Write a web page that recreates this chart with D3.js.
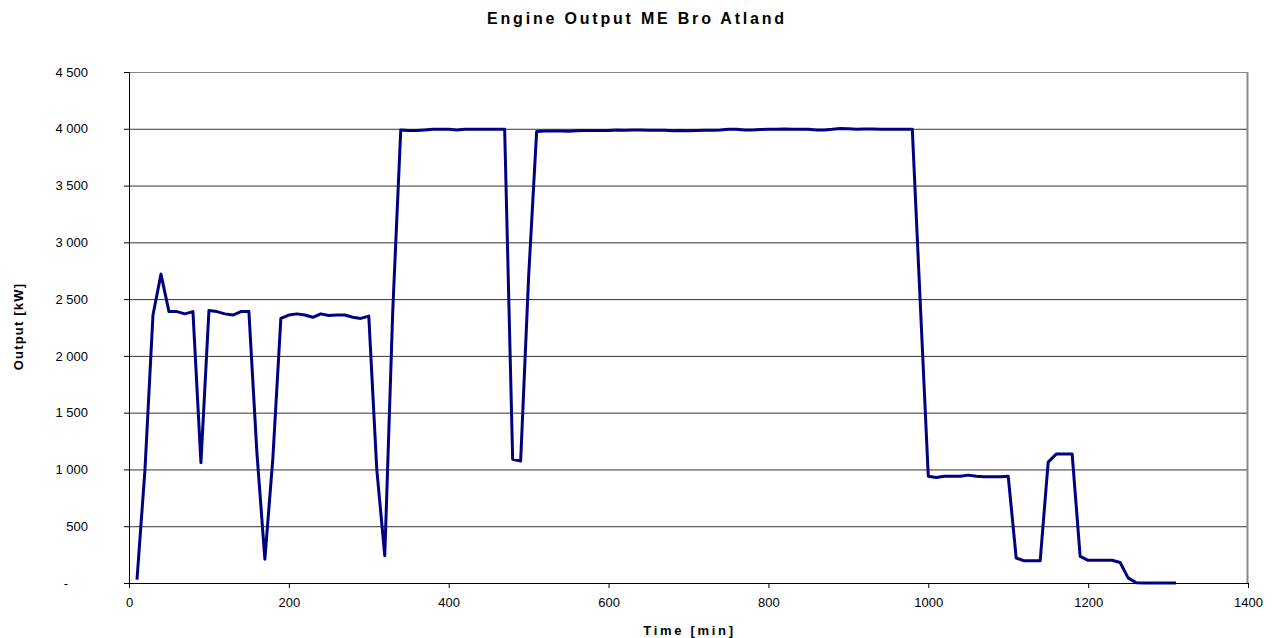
<!DOCTYPE html>
<html lang="en">
<head>
    <meta charset="UTF-8">
    <title>Engine Output ME Bro Atland</title>
    <script src="https://d3js.org/d3.v7.min.js"></script>
    <style>
        body { margin: 0; background: #fff; }
        text { font-family: Arial, "Liberation Sans", sans-serif; }
    </style>
</head>
<body>
    <div id="chart"></div>
    <script>
        // time in minutes
        var times = [
            10, 20, 30, 40, 50, 60, 70, 80, 90, 100,
            110, 120, 130, 140, 150, 160, 170, 180, 190, 200,
            210, 220, 230, 240, 250, 260, 270, 280, 290, 300,
            310, 320, 330, 340, 350, 360, 370, 380, 390, 400,
            410, 420, 430, 440, 450, 460, 470, 480, 490, 500,
            510, 520, 530, 540, 550, 560, 570, 580, 590, 600,
            610, 620, 630, 640, 650, 660, 670, 680, 690, 700,
            710, 720, 730, 740, 750, 760, 770, 780, 790, 800,
            810, 820, 830, 840, 850, 860, 870, 880, 890, 900,
            910, 920, 930, 940, 950, 960, 970, 980, 990, 1000,
            1010, 1020, 1030, 1040, 1050, 1060, 1070, 1080, 1090, 1100,
            1110, 1120, 1130, 1140, 1150, 1160, 1170, 1180, 1190, 1200,
            1210, 1220, 1230, 1240, 1250, 1260, 1270, 1280, 1290, 1300,
            1310
        ];
        // engine output in kW
        var output = [
            30, 1000, 2360, 2720, 2390, 2390, 2370, 2390, 1060, 2400,
            2390, 2370, 2360, 2390, 2390, 1150, 210, 1100, 2330, 2360,
            2370, 2360, 2340, 2370, 2355, 2360, 2360, 2340, 2330, 2350,
            1000, 240, 2400, 3990, 3985, 3985, 3990, 3995, 3995, 3995,
            3990, 3995, 3995, 3995, 3995, 3995, 3995, 1090, 1075, 2700,
            3975, 3980, 3980, 3980, 3978, 3982, 3985, 3985, 3985, 3985,
            3990, 3988, 3990, 3990, 3988, 3988, 3988, 3983, 3985, 3982,
            3985, 3988, 3988, 3990, 3995, 3995, 3990, 3990, 3993, 3995,
            3995, 3998, 3995, 3995, 3995, 3990, 3990, 3995, 4003, 4000,
            3995, 3998, 3998, 3995, 3995, 3995, 3995, 3995, 2460, 940,
            930, 940, 940, 940, 950, 940, 935, 935, 935, 940,
            220, 195, 195, 195, 1065, 1135, 1135, 1135, 235, 200,
            200, 200, 200, 180, 45, 3, 0, 0, 0, 0,
            0
        ];
        var xTicks = [0, 200, 400, 600, 800, 1000, 1200, 1400];
        var yTicks = [0, 500, 1000, 1500, 2000, 2500, 3000, 3500, 4000, 4500];

        var data = times.map(function (t, i) { return { t: t, v: output[i] }; });

        var W = 1282, H = 638;
        var margin = { top: 72, right: 34, bottom: 55, left: 129 };
        var width = W - margin.left - margin.right;
        var height = H - margin.top - margin.bottom;

        var root = d3.select("#chart").append("svg")
            .attr("width", W)
            .attr("height", H);

        var svg = root.append("g")
            .attr("transform", "translate(" + margin.left + "," + margin.top + ")");

        var x = d3.scaleLinear().domain([0, 1400]).range([0, width]);
        var y = d3.scaleLinear().domain([0, 4500]).range([height, 0]);

        // gridlines
        svg.append("g")
            .selectAll("line")
            .data(yTicks.filter(function (d) { return d > 0 && d < 4500; }))
            .enter().append("line")
            .attr("x1", 0).attr("x2", width)
            .attr("y1", function (d) { return y(d) + 0.5; })
            .attr("y2", function (d) { return y(d) + 0.5; })
            .style("stroke", "#333")
            .style("stroke-width", 1);

        // plot border top/right
        svg.append("line")
            .attr("x1", 0).attr("x2", width)
            .attr("y1", 0.5).attr("y2", 0.5)
            .style("stroke", "#888");
        svg.append("line")
            .attr("x1", width - 0.5).attr("x2", width - 0.5)
            .attr("y1", 0).attr("y2", height)
            .style("stroke", "#888")
            .style("stroke-width", 2);

        var fmt = d3.format(",");
        var yAxis = svg.append("g")
            .call(d3.axisLeft(y).tickValues(yTicks).tickSize(5).tickPadding(36)
                .tickFormat(function (d) { return d === 0 ? "-" : fmt(d).replace(/,/g, " "); }));
        yAxis.select(".domain").style("stroke", "#000");
        yAxis.selectAll(".tick line").style("stroke", "#000");
        yAxis.selectAll("text")
            .style("font-size", "13px")
            .style("fill", "#000")
            .attr("dx", function (d) { return d === 0 ? "-20px" : 0; });

        var xAxis = svg.append("g")
            .attr("transform", "translate(0," + height + ")")
            .call(d3.axisBottom(x).tickValues(xTicks).tickSize(5).tickPadding(10)
                .tickFormat(d3.format("d")));
        xAxis.select(".domain").style("stroke", "#000");
        xAxis.selectAll(".tick line").style("stroke", "#000");
        xAxis.selectAll("text")
            .style("font-size", "13px")
            .style("fill", "#000");

        // the series line
        var line = d3.line()
            .x(function (d) { return x(d.t); })
            .y(function (d) { return y(d.v); });

        svg.append("path")
            .datum(data)
            .attr("d", line)
            .style("fill", "none")
            .style("stroke", "#000080")
            .style("stroke-width", 3)
            .style("stroke-linejoin", "round");

        // titles
        root.append("text")
            .attr("x", 637)
            .attr("y", 24)
            .attr("text-anchor", "middle")
            .style("font-size", "16px")
            .style("font-weight", "bold")
            .style("letter-spacing", "2.8px")
            .text("Engine Output ME Bro Atland");

        root.append("text")
            .attr("x", margin.left + width / 2 + 1)
            .attr("y", 635)
            .attr("text-anchor", "middle")
            .style("font-size", "13px")
            .style("font-weight", "bold")
            .style("letter-spacing", "2.7px")
            .text("Time [min]");

        root.append("text")
            .attr("transform", "translate(23," + (margin.top + height / 2 - 1) + ") rotate(-90)")
            .attr("text-anchor", "middle")
            .style("font-size", "13px")
            .style("font-weight", "bold")
            .style("letter-spacing", "1.2px")
            .text("Output [kW]");
    </script>
</body>
</html>
